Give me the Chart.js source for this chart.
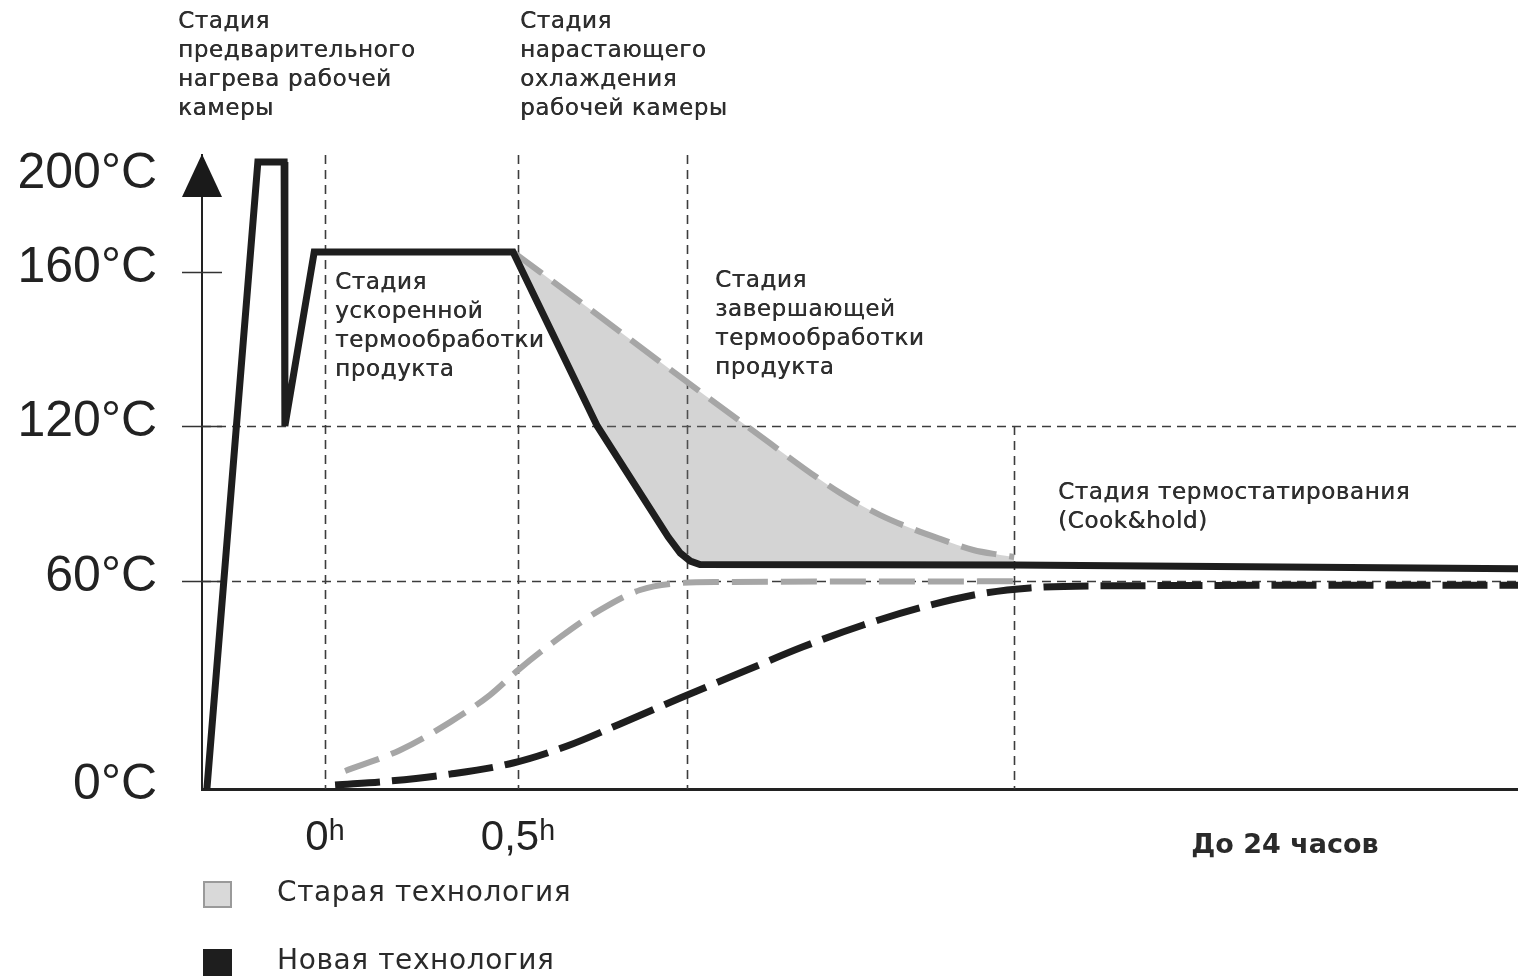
<!DOCTYPE html>
<html><head><meta charset="utf-8">
<script src="https://cdn.jsdelivr.net/npm/chart.js@4.4.0/dist/chart.umd.min.js"></script>
<style>html,body{margin:0;padding:0;background:#fff;overflow:hidden}canvas{display:block}</style>
</head><body><canvas id="c" width="1518" height="978"></canvas>
<script>
// ---------- DATA (schematic: x in hours, y in °C) ----------
const yTickValues = [0, 60, 120, 160, 200];
const xTickValues = [0, 0.5];
const xTickLabels = ['0ʰ', '0,5ʰ'];
const horizonLabel = 'До 24 часов';

// Chamber temperature (new technology) – solid black line
const chamberX = [-0.306, -0.174, -0.106, -0.104, -0.028, 0.487, 0.512, 0.705, 0.889, 0.920, 0.946, 0.971, 1.785, 3.09];
const chamberY = [0, 207, 207, 120, 168.5, 168.5, 160, 120, 77.0, 70.8, 67.7, 66.4, 66.2, 64.7];

// Chamber temperature, old technology – grey dashed
const oldChamberX = [0.487, 0.557, 1.092, 1.334, 1.438, 1.516, 1.593, 1.679, 1.749, 1.785];
const oldChamberY = [168.5, 160, 120, 94.1, 85.5, 80.5, 76.3, 72.0, 70.1, 69.3];

// Product core temperature, old technology – grey dashed
const oldProductX = [0.052, 0.194, 0.324, 0.427, 0.5, 0.609, 0.712, 0.816, 0.920, 1.023, 1.785];
const oldProductY = [5.2, 11.2, 19.3, 27.1, 34.3, 43.8, 51.6, 57.4, 59.4, 59.7, 59.9];

// Product core temperature, new technology – black dashed
const newProductX = [0.026, 0.168, 0.324, 0.487, 0.627, 0.764, 0.920, 1.093, 1.238, 1.394, 1.549, 1.697, 1.826, 2.008, 3.09];
const newProductY = [1.15, 2.3, 4.3, 7.5, 12.4, 18.75, 26.25, 34.3, 41.0, 47.3, 52.5, 56.3, 58.0, 58.6, 58.8];

const legendLabels = ['Старая технология', 'Новая технология'];

// stage boundaries (x) and the temperature where each dashed divider starts
const stageBounds = [0, 0.5, 0.938, 1.785];
const stageFrom = [210, 210, 210, 120];
const gridY = [60, 120];
const tickMarkY = [60, 120, 160];

const stageTexts = [
  ['Стадия', 'предварительного', 'нагрева рабочей', 'камеры'],
  ['Стадия', 'нарастающего', 'охлаждения', 'рабочей камеры'],
  ['Стадия', 'ускоренной', 'термообработки', 'продукта'],
  ['Стадия', 'завершающей', 'термообработки', 'продукта'],
  ['Стадия термостатирования', '(Cook&hold)']
];

// ---------- non-linear (piecewise) temperature axis ----------
const yBreakValues = [0, 60, 120, 160, 200, 210];
const yBreakFractions = [0, 0.3281, 0.5726, 0.8155, 0.9637, 1];

function valToFrac(v) {
  const bv = yBreakValues, bf = yBreakFractions;
  if (v <= bv[0]) return bf[0] + (v - bv[0]) * (bf[1] - bf[0]) / (bv[1] - bv[0]);
  for (let i = 1; i < bv.length; i++) {
    if (v <= bv[i]) return bf[i - 1] + (v - bv[i - 1]) * (bf[i] - bf[i - 1]) / (bv[i] - bv[i - 1]);
  }
  const n = bv.length - 1;
  return bf[n] + (v - bv[n]) * (bf[n] - bf[n - 1]) / (bv[n] - bv[n - 1]);
}
function fracToVal(f) {
  const bv = yBreakValues, bf = yBreakFractions;
  for (let i = 1; i < bf.length; i++) {
    if (f <= bf[i]) return bv[i - 1] + (f - bf[i - 1]) * (bv[i] - bv[i - 1]) / (bf[i] - bf[i - 1]);
  }
  return bv[bv.length - 1];
}
class PiecewiseScale extends Chart.LinearScale {
  getPixelForValue(value) { return this.getPixelForDecimal(valToFrac(value)); }
  getValueForPixel(pixel) { return fracToVal(this.getDecimalForPixel(pixel)); }
}
PiecewiseScale.id = 'piecewise';
PiecewiseScale.defaults = Chart.LinearScale.defaults;
Chart.register(PiecewiseScale);

const pts = (xs, ys) => xs.map((x, i) => ({ x, y: ys[i] }));

const INK = '#1e1e1e';
const GREY = '#a6a6a6';

const overlay = {
  id: 'overlay',
  beforeDatasetsDraw(chart) {
    const { ctx, chartArea: a, scales: { x, y } } = chart;
    ctx.save();
    ctx.strokeStyle = '#3c3c3c';
    ctx.lineWidth = 1.6;
    ctx.setLineDash([9, 6]);
    gridY.forEach(v => {
      const py = Math.round(y.getPixelForValue(v)) + 0.5;
      ctx.beginPath(); ctx.moveTo(a.left, py); ctx.lineTo(a.right, py); ctx.stroke();
    });
    stageBounds.forEach((v, i) => {
      const px = Math.round(x.getPixelForValue(v)) + 0.5;
      ctx.beginPath(); ctx.moveTo(px, y.getPixelForValue(stageFrom[i])); ctx.lineTo(px, a.bottom); ctx.stroke();
    });
    ctx.setLineDash([]);
    ctx.strokeStyle = '#333';
    tickMarkY.forEach(v => {
      const py = Math.round(y.getPixelForValue(v)) + 0.5;
      ctx.beginPath(); ctx.moveTo(a.left - 20, py); ctx.lineTo(a.left + 20, py); ctx.stroke();
    });
    ctx.restore();
  },
  afterDraw(chart) {
    const { ctx, chartArea: a } = chart;
    ctx.save();
    // arrow head on the temperature axis
    ctx.fillStyle = '#1a1a1a';
    ctx.beginPath();
    ctx.moveTo(a.left, a.top - 1);
    ctx.lineTo(a.left - 20, a.top + 42);
    ctx.lineTo(a.left + 20, a.top + 42);
    ctx.closePath(); ctx.fill();

    // stage annotations
    const spots = [[178, 22], [520, 22], [335, 283], [715, 281], [1058, 493]];
    ctx.fillStyle = '#2e2e2e';
    ctx.font = "23px 'DejaVu Sans'";
    ctx.letterSpacing = '0.6px';
    ctx.textAlign = 'left';
    ctx.textBaseline = 'middle';
    stageTexts.forEach((lines, i) => {
      lines.forEach((t, j) => {
        ctx.fillText(t, spots[i][0], spots[i][1] + j * 29);
        ctx.fillText(t, spots[i][0] + 0.4, spots[i][1] + j * 29);
      });
    });

    // horizon label
    ctx.letterSpacing = '0px';
    ctx.font = "bold 27px 'DejaVu Sans'";
    ctx.fillStyle = '#2a2a2a';
    ctx.textAlign = 'center';
    ctx.fillText(horizonLabel, 1285, 846);

    // legend
    ctx.textAlign = 'left';
    ctx.font = "28px 'DejaVu Sans'";
    ctx.letterSpacing = '0.6px';
    const legendStyles = [{ fill: '#d9d9d9', stroke: '#9a9a9a' }, { fill: '#1e1e1e', stroke: '#1e1e1e' }];
    const rows = [894, 962];
    legendLabels.forEach((t, i) => {
      ctx.fillStyle = legendStyles[i].fill;
      ctx.strokeStyle = legendStyles[i].stroke;
      ctx.lineWidth = 2;
      ctx.fillRect(204, rows[i] - 12, 27, 25);
      ctx.strokeRect(204, rows[i] - 12, 27, 25);
      ctx.fillStyle = '#2a2a2a';
      ctx.fillText(t, 277, rows[i]);
    });
    ctx.restore();
  }
};

new Chart(document.getElementById('c'), {
  type: 'line',
  data: {
    datasets: [
      { label: 'Камера (новая технология)', data: pts(chamberX, chamberY), borderColor: INK, borderWidth: 7,
        tension: 0, pointRadius: 0, fill: false },
      { label: 'Камера (старая технология)', data: pts(oldChamberX, oldChamberY), borderColor: GREY, borderWidth: 6,
        borderDash: [36, 13], cubicInterpolationMode: 'monotone', pointRadius: 0,
        fill: { target: 0 }, backgroundColor: 'rgba(120,120,120,0.32)' },
      { label: 'Продукт (старая технология)', data: pts(oldProductX, oldProductY), borderColor: GREY, borderWidth: 6,
        borderDash: [36, 13], cubicInterpolationMode: 'monotone', pointRadius: 0, fill: false },
      { label: 'Продукт (новая технология)', data: pts(newProductX, newProductY), borderColor: INK, borderWidth: 7,
        borderDash: [45, 12], cubicInterpolationMode: 'monotone', pointRadius: 0, fill: false }
    ]
  },
  options: {
    responsive: false,
    devicePixelRatio: 1,
    animation: false,
    layout: { padding: { top: 155, left: 0, right: 0, bottom: 0 } },
    plugins: { legend: { display: false }, tooltip: { enabled: false } },
    scales: {
      x: {
        type: 'linear', min: -0.3187, max: 3.09,
        grid: { display: false, drawTicks: false },
        border: { display: true, color: '#222', width: 3 },
        ticks: {
          padding: 24, maxRotation: 0, minRotation: 0, color: '#222',
          font: { family: "'Liberation Sans'", size: 42 },
          callback: (v) => xTickLabels[xTickValues.indexOf(v)]
        },
        afterBuildTicks: (s) => { s.ticks = xTickValues.map(v => ({ value: v })); },
        afterFit: (s) => { s.height = 189; }
      },
      y: {
        type: 'piecewise', min: 0, max: 210,
        grid: { display: false, drawTicks: false },
        border: { display: true, color: '#222', width: 2 },
        ticks: {
          padding: 45, color: '#222', labelOffset: -4,
          font: { family: "'Liberation Sans'", size: 50 },
          callback: (v) => v + '°C'
        },
        afterBuildTicks: (s) => { s.ticks = yTickValues.map(v => ({ value: v })); },
        afterFit: (s) => { s.width = 202; }
      }
    }
  },
  plugins: [overlay]
});
</script></body></html>
